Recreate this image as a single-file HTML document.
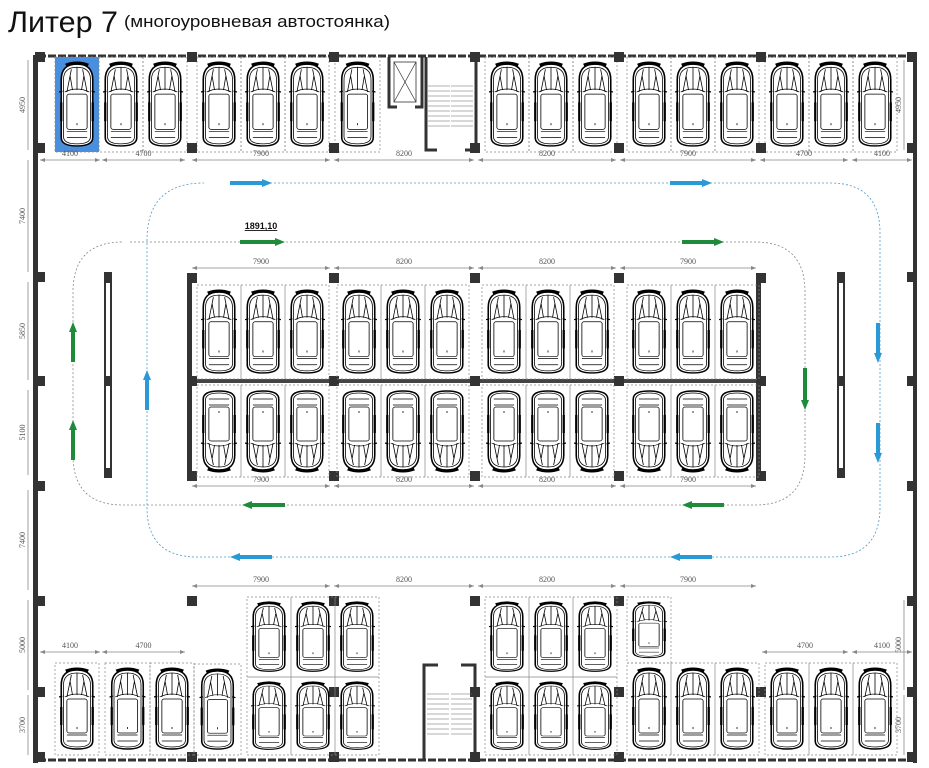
<!DOCTYPE html>
<html><head><meta charset="utf-8"><style>
html,body{margin:0;padding:0;background:#fff;width:929px;height:768px;overflow:hidden}
svg{display:block}
.t{font-family:"Liberation Serif",serif;font-size:8px;fill:#555}
</style></head><body>
<svg id="s" width="929" height="768" viewBox="0 0 929 768" xmlns="http://www.w3.org/2000/svg">
<defs>
<symbol id="car" viewBox="2 0 32 84" preserveAspectRatio="none">
<path d="M4,18 Q4,3 18,3 Q32,3 32,18 L32,74 Q32,82 18,82 Q4,82 4,74 Z" fill="#fff" stroke="#000" stroke-width="1.4"/>
<path d="M6,18 Q6,6 18,6 Q30,6 30,18 L30,73 Q30,80 18,80 Q6,80 6,73 Z" fill="none" stroke="#000" stroke-width="0.7"/>
<path d="M8,4 Q18,0 28,4" fill="none" stroke="#000" stroke-width="3"/>
<path d="M7,30 Q18,24 29,30 M9,30 L13,8 M18,28 L18,6 M27,30 L23,8 M12,15 L14,28 M24,15 L22,28" fill="none" stroke="#000" stroke-width="0.7"/>
<rect x="9" y="32" width="18" height="34" rx="2" fill="none" stroke="#000" stroke-width="0.7"/>
<path d="M9,68 L27,68 M9,74 L27,74 M18,62 L18,60" stroke="#000" stroke-width="0.7"/>
<path d="M2,30 L5,29 M34,30 L31,29" stroke="#000" stroke-width="1.2"/>
<path d="M4,40 L4,58 M32,40 L32,58" stroke="#000" stroke-width="2"/>
</symbol>
</defs>
<text x="8" y="32" font-family="Liberation Sans,sans-serif" font-size="30" fill="#111" textLength="110" lengthAdjust="spacingAndGlyphs">Литер 7</text>
<text x="124" y="27" font-family="Liberation Sans,sans-serif" font-size="17" fill="#111" textLength="266" lengthAdjust="spacingAndGlyphs">(многоуровневая автостоянка)</text>
<g id="g"></g>
</svg>
<script>
var g=document.getElementById('g'),h='';
function r(x,y,w,hh,f,extra){h+='<rect x="'+x+'" y="'+y+'" width="'+w+'" height="'+hh+'" fill="'+(f||'#333')+'" '+(extra||'')+'/>';}
function l(x1,y1,x2,y2,st){h+='<line x1="'+x1+'" y1="'+y1+'" x2="'+x2+'" y2="'+y2+'" '+st+'/>';}
function t(x,y,s,rot){h+='<text class="t" x="'+x+'" y="'+y+'" text-anchor="middle"'+(rot?' transform="rotate(-90 '+x+' '+y+')"':'')+'>'+s+'</text>';}
function car(x,y,w,hh,flip){var cx=x+w/2;h+='<use href="#car" x="'+(cx-18)+'" y="'+(y+4)+'" width="36" height="'+(hh-8)+'"'+(flip?' transform="rotate(180 '+cx+' '+(y+hh/2)+')"':'')+'/>';}
function bays(xs,y,hh,flip){for(var i=0;i<xs.length-1;i++){r(xs[i],y,xs[i+1]-xs[i],hh,'none','stroke="#888" stroke-width="0.7" stroke-dasharray="2,2"');car(xs[i],y,xs[i+1]-xs[i],hh,flip);}}
function dim(x1,x2,y,s){l(x1,y,x2,y,'stroke="#888" stroke-width="0.8"');h+='<path d="M'+x1+','+y+' l5,-2 v4z M'+x2+','+y+' l-5,-2 v4z" fill="#888"/>';t((x1+x2)/2,y-4,s);}
function vdim(x,y1,y2,s){l(x,y1,x,y2,'stroke="#888" stroke-width="0.8"');t(x-3,(y1+y2)/2,s,1);}
r(33,55,5,708);r(913,55,4,708);
l(38,56,913,56,'stroke="#333" stroke-width="3" stroke-dasharray="8,2"');
l(38,760,913,760,'stroke="#333" stroke-width="3" stroke-dasharray="8,2"');
r(55,57,44,95,'#4a8fdd');
bays([55,99,143,187],57,95);bays([197,241,285,329],57,95);bays([335,380],57,95);
bays([485,529,573,617],57,95);bays([627,671,715,759],57,95);bays([765,809,853,897],57,95);
h+='<path d="M389,57 V107 H397 M415,107 H422 V57" fill="none" stroke="#333" stroke-width="3"/>';
r(394,62,22,40,'none','stroke="#333" stroke-width="0.8"');l(394,62,416,102,'stroke="#333" stroke-width="0.7"');l(416,62,394,102,'stroke="#333" stroke-width="0.7"');
h+='<path d="M426,57 V150 H437 M465,150 H476 V57" fill="none" stroke="#333" stroke-width="3"/>';
for(var y=86;y<=126;y+=5){l(428,y,450,y,'stroke="#666" stroke-width="0.6"');l(451,y,473,y,'stroke="#666" stroke-width="0.6"');}
[35,187,329].forEach(function(x){r(x,52,10,10);r(x,143,10,10);});
[470,614,756,907].forEach(function(x){r(x,52,10,10);r(x,143,10,10);});
[35,907].forEach(function(x){[272,376,481,596,687,752].forEach(function(y){r(x,y,10,10);});});
[187,329,470,614].forEach(function(x){r(x,596,10,10);r(x,752,10,10);});
[329,470,614,756].forEach(function(x){r(x,687,10,10);});
dim(40,100,160,'4100');dim(102,185,160,'4700');dim(192,330,160,'7900');dim(334,474,160,'8200');
dim(478,616,160,'8200');dim(620,756,160,'7900');dim(760,848,160,'4700');dim(852,912,160,'4100');
vdim(28,60,150,'4950');vdim(28,160,272,'7400');vdim(28,282,380,'5850');vdim(28,390,475,'5100');vdim(28,490,590,'7400');vdim(28,600,690,'5000');vdim(28,695,755,'3700');
vdim(904,60,150,'4950');vdim(904,600,690,'5000');vdim(904,695,755,'3700');
r(187,273,5,204);r(756,273,5,204);r(190,379,570,4,'#444');
[187,329,470,614,756].forEach(function(x){r(x,273,10,10);r(x,376,10,10);r(x,471,10,10);});
bays([197,241,285,329],285,94);bays([337,381,425,469],285,94);bays([482,526,570,614],285,94);bays([627,671,715,759],285,94);
bays([197,241,285,329],385,92,1);bays([337,381,425,469],385,92,1);bays([482,526,570,614],385,92,1);bays([627,671,715,759],385,92,1);
dim(192,330,268,'7900');dim(334,474,268,'8200');dim(478,616,268,'8200');dim(620,756,268,'7900');
dim(192,330,486,'7900');dim(334,474,486,'8200');dim(478,616,486,'8200');dim(620,756,486,'7900');
[105,838].forEach(function(x){r(x,273,6,204,'#fff','stroke="#333" stroke-width="2"');r(x-1,376,8,10);r(x-1,273,8,10);r(x-1,468,8,10);});
dim(192,330,586,'7900');dim(334,474,586,'8200');dim(478,616,586,'8200');dim(620,756,586,'7900');
dim(40,100,652,'4100');dim(102,185,652,'4700');dim(762,848,652,'4700');dim(852,912,652,'4100');
bays([55,99],663,92);bays([105,150,194],663,92);bays([194,241],664,91);
bays([247,291,335,379],597,80);bays([247,291,335,379],677,78);
bays([485,529,573,617],597,80);bays([485,529,573,617],677,78);bays([627,671],597,66);
bays([627,671,715,759],663,92);bays([765,809,853,897],663,92);
h+='<path d="M424,760 V665 H438 M461,665 H475 V760" fill="none" stroke="#333" stroke-width="3"/>';
for(var y=694;y<=734;y+=5){l(427,y,449,y,'stroke="#666" stroke-width="0.6"');l(451,y,472,y,'stroke="#666" stroke-width="0.6"');}
h+='<path d="M230,183 H830 Q880,183 880,233 V507 Q880,557 830,557 H197 Q147,557 147,507 V240 Q147,183 204,183" fill="none" stroke="#4a9bd0" stroke-width="0.8" stroke-dasharray="2,2"/>';
h+='<path d="M130,242 H755 Q805,242 805,292 V455 Q805,505 755,505 H123 Q73,505 73,455 V292 Q73,242 123,242" fill="none" stroke="#888" stroke-width="0.8" stroke-dasharray="2,2"/>';
function ar(x1,y1,x2,y2,c){var dx=x2-x1,dy=y2-y1,L=Math.hypot(dx,dy),ux=dx/L,uy=dy/L,px=-uy,py=ux;
var bx=x2-ux*10,by=y2-uy*10;
l(x1,y1,bx,by,'stroke="'+c+'" stroke-width="4"');
h+='<path d="M'+x2+','+y2+' L'+(bx+px*4)+','+(by+py*4)+' L'+(bx-px*4)+','+(by-py*4)+'Z" fill="'+c+'"/>';}
var B='#2a9ad6',G='#1f8a3a';
ar(230,183,272,183,B);ar(670,183,712,183,B);ar(240,242,285,242,G);ar(682,242,724,242,G);
ar(285,505,242,505,G);ar(724,505,682,505,G);ar(272,557,230,557,B);ar(712,557,670,557,B);
ar(73,362,73,322,G);ar(73,460,73,420,G);ar(147,410,147,370,B);
ar(878,323,878,363,B);ar(878,423,878,463,B);ar(805,368,805,410,G);
h+='<text x="261" y="229" text-anchor="middle" font-family="Liberation Sans,sans-serif" font-size="9" font-weight="bold" text-decoration="underline" fill="#111">1891,10</text>';
g.innerHTML=h;
</script>
</body></html>
